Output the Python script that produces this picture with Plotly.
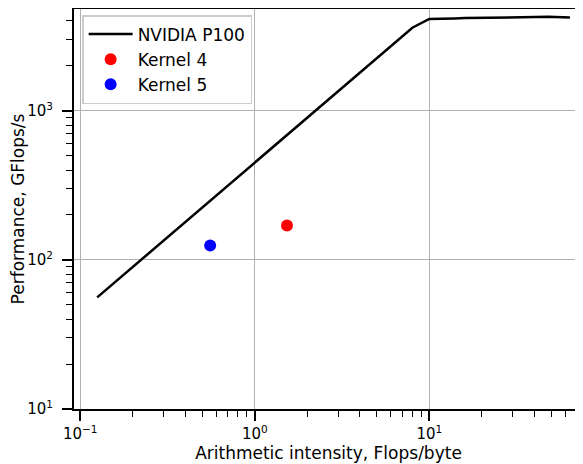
import plotly.graph_objects as go

# Roofline data (NVIDIA P100)
roof_x = [0.125, 0.25, 0.5, 1, 2, 4, 8, 10, 13, 14, 16, 32, 48, 64]
roof_y = [56, 112, 225, 450, 900, 1800, 3600, 4120, 4120, 4160, 4180, 4230, 4260, 4225]

k4_x = [1.53]
k4_y = [170]
k5_x = [0.555]
k5_y = [125]

x_tickvals = [0.1, 1, 10]
x_ticktext = ["10<sup>−1</sup>", "10<sup>0</sup>", "10<sup>1</sup>"]
y_tickvals = [10, 100, 1000]
y_ticktext = ["10<sup>1</sup>", "10<sup>2</sup>", "10<sup>3</sup>"]
x_minor = [m * 10 ** e for e in (-2, -1, 0, 1) for m in range(2, 10)]
y_minor = [m * 10 ** e for e in (1, 2, 3) for m in range(2, 10)]

font = "DejaVu Sans"

fig = go.Figure()
fig.add_trace(go.Scatter(x=roof_x, y=roof_y, mode="lines", name="NVIDIA P100",
                         line=dict(color="black", width=2.5)))
fig.add_trace(go.Scatter(x=k4_x, y=k4_y, mode="markers", name="Kernel 4",
                         marker=dict(color="#ff0000", size=12)))
fig.add_trace(go.Scatter(x=k5_x, y=k5_y, mode="markers", name="Kernel 5",
                         marker=dict(color="#0000ff", size=12)))

axis_common = dict(
    type="log", automargin=False,
    showline=True, linecolor="black", linewidth=2,
    ticks="outside", ticklen=10, tickwidth=1.8, tickcolor="black",
    showgrid=True, gridcolor="#b0b0b0", gridwidth=0.8,
    zeroline=False,
    tickfont=dict(family=font, size=15, color="black"),
)

fig.update_xaxes(
    **axis_common,
    range=[-1.036, 1.881],
    tickmode="array", tickvals=x_tickvals, ticktext=x_ticktext,
    mirror=True,
    minor=dict(ticks="outside", ticklen=6, tickwidth=1.2, tickcolor="black",
               showgrid=False, tickmode="array", tickvals=x_minor),
    title=dict(text="Arithmetic intensity, Flops/byte",
               font=dict(family=font, size=17, color="black"), standoff=0),
)
fig.update_yaxes(
    **axis_common,
    range=[1, 3.682],
    tickmode="array", tickvals=y_tickvals, ticktext=y_ticktext,
    ticklabelstandoff=6,
    minor=dict(ticks="outside", ticklen=6, tickwidth=1.2, tickcolor="black",
               showgrid=False, tickmode="array", tickvals=y_minor),
    title=dict(text="Performance, GFlops/s",
               font=dict(family=font, size=17, color="black"), standoff=0),
)

# page body has an 8px default margin; figure is sized to compensate
fig.update_layout(
    width=575, height=456,
    margin=dict(l=66, r=0, t=1, b=55, autoexpand=False),
    plot_bgcolor="white", paper_bgcolor="white",
    font=dict(family=font, size=17, color="black"),
    legend=dict(x=0.016, y=0.985, xanchor="left", yanchor="top",
                bgcolor="rgba(255,255,255,0.8)", bordercolor="#cccccc", borderwidth=1.5,
                font=dict(family=font, size=17, color="black"),
                itemwidth=44),
)

fig.write_html("out.html")
